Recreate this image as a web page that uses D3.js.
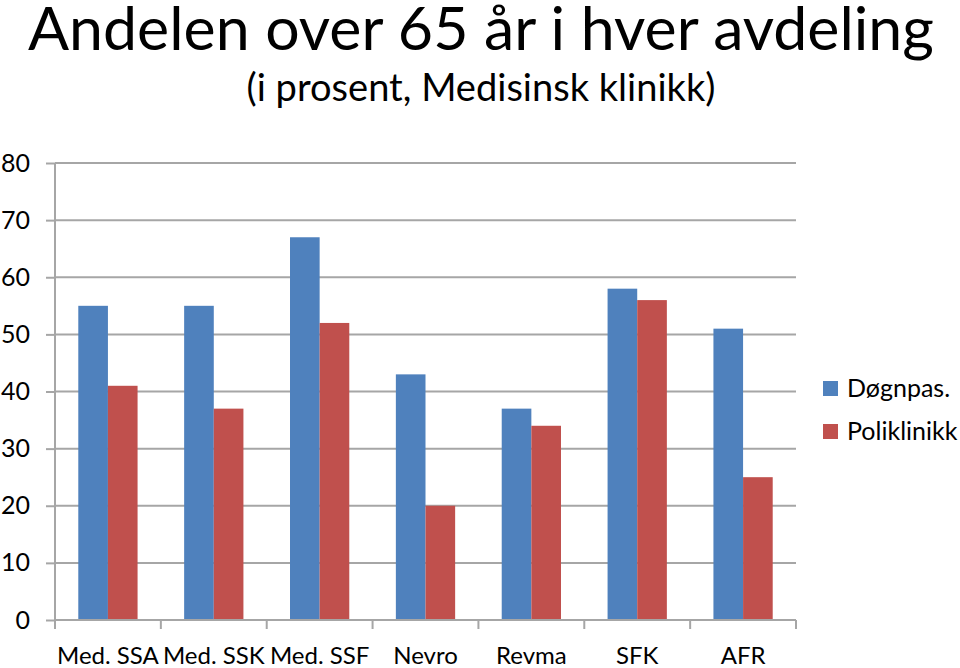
<!DOCTYPE html>
<html><head><meta charset="utf-8">
<script src="https://cdn.jsdelivr.net/npm/d3@7"></script>
<style>body{margin:0;background:#fff;} svg{display:block;}</style>
</head><body>
<script>
const categories = ["Med. SSA","Med. SSK","Med. SSF","Nevro","Revma","SFK","AFR"];
const seriesNames = ["Døgnpas.","Poliklinikk"];
const dognpas = [55,55,67,43,37,58,51];
const poliklinikk = [41,37,52,20,34,56,25];
const yTicks = [0,10,20,30,40,50,60,70,80];
const colors = ["#4F81BD","#C0504D"];

(function(){
const W=960,H=668;
const FONT="Lato, 'Open Sans', sans-serif";
const svg=d3.select("body").append("svg").attr("width",W).attr("height",H);
const pl=55,pr=796,pt=163,pb=620;
const x=d3.scaleBand().domain(categories).range([pl,pr]).paddingInner(0.44).paddingOuter(0.22);
const xs=d3.scaleBand().domain(seriesNames).range([0,x.bandwidth()]);
const y=d3.scaleLinear().domain([0,80]).range([pb,pt]);

function fitText(sel,target){
  const base=+sel.attr("font-size");
  const w=sel.node().getComputedTextLength();
  if(w>0) sel.attr("font-size",base*target/w);
}
const t1=svg.append("text").attr("x",481).attr("y",50).attr("text-anchor","middle")
  .attr("font-family",FONT).attr("font-size",60).attr("fill","#000")
  .text("Andelen over 65 år i hver avdeling");
fitText(t1,906);
const t2=svg.append("text").attr("x",481).attr("y",101).attr("text-anchor","middle")
  .attr("font-family",FONT).attr("font-size",38).attr("fill","#000")
  .text("(i prosent, Medisinsk klinikk)");
fitText(t2,469);

svg.append("g").selectAll("line").data(yTicks.filter(d=>d>0)).join("line")
  .attr("x1",pl).attr("x2",pr).attr("y1",d=>y(d)).attr("y2",d=>y(d))
  .attr("stroke","#A6A6A6").attr("stroke-width",2);

const ya=svg.append("g").attr("transform",`translate(${pl},0)`)
  .call(d3.axisLeft(y).tickValues(yTicks).tickSize(9).tickPadding(16).tickFormat(d3.format("d")));
ya.select(".domain").attr("stroke","#A6A6A6").attr("stroke-width",2).attr("d",`M0,${pt}V${pb}`);
ya.selectAll(".tick line").attr("stroke","#A6A6A6").attr("stroke-width",2);
ya.selectAll("text").attr("font-family",FONT).attr("font-size",25).attr("fill","#000");

const data=categories.map((c,i)=>({c,vals:[dognpas[i],poliklinikk[i]]}));
const g=svg.append("g").selectAll("g").data(data).join("g").attr("transform",d=>`translate(${x(d.c)},0)`);
g.selectAll("rect").data(d=>d.vals.map((v,j)=>({v,j}))).join("rect")
  .attr("x",d=>xs(seriesNames[d.j])).attr("width",xs.bandwidth())
  .attr("y",d=>y(d.v)).attr("height",d=>y(0)-y(d.v)).attr("fill",d=>colors[d.j]);

const step=(pr-pl)/categories.length;
const xa=svg.append("g").attr("transform",`translate(0,${pb})`);
xa.append("line").attr("x1",pl).attr("x2",pr).attr("stroke","#A6A6A6").attr("stroke-width",2);
xa.selectAll(".tk").data(d3.range(categories.length+1)).join("line").attr("class","tk")
  .attr("x1",i=>pl+i*step).attr("x2",i=>pl+i*step).attr("y1",0).attr("y2",9)
  .attr("stroke","#A6A6A6").attr("stroke-width",2);
xa.selectAll("text").data(categories).join("text")
  .attr("x",d=>x(d)+x.bandwidth()/2).attr("y",44).attr("text-anchor","middle")
  .attr("font-family",FONT).attr("font-size",24).attr("fill","#000").text(d=>d);

const lg=svg.append("g").selectAll("g").data(seriesNames).join("g")
  .attr("transform",(d,i)=>`translate(823,${381+i*43})`);
lg.append("rect").attr("width",15).attr("height",15).attr("fill",(d,i)=>colors[i]);
lg.append("text").attr("x",24).attr("y",16).attr("font-family",FONT)
  .attr("font-size",25).attr("fill","#000").text(d=>d);
})();
</script>
</body></html>
